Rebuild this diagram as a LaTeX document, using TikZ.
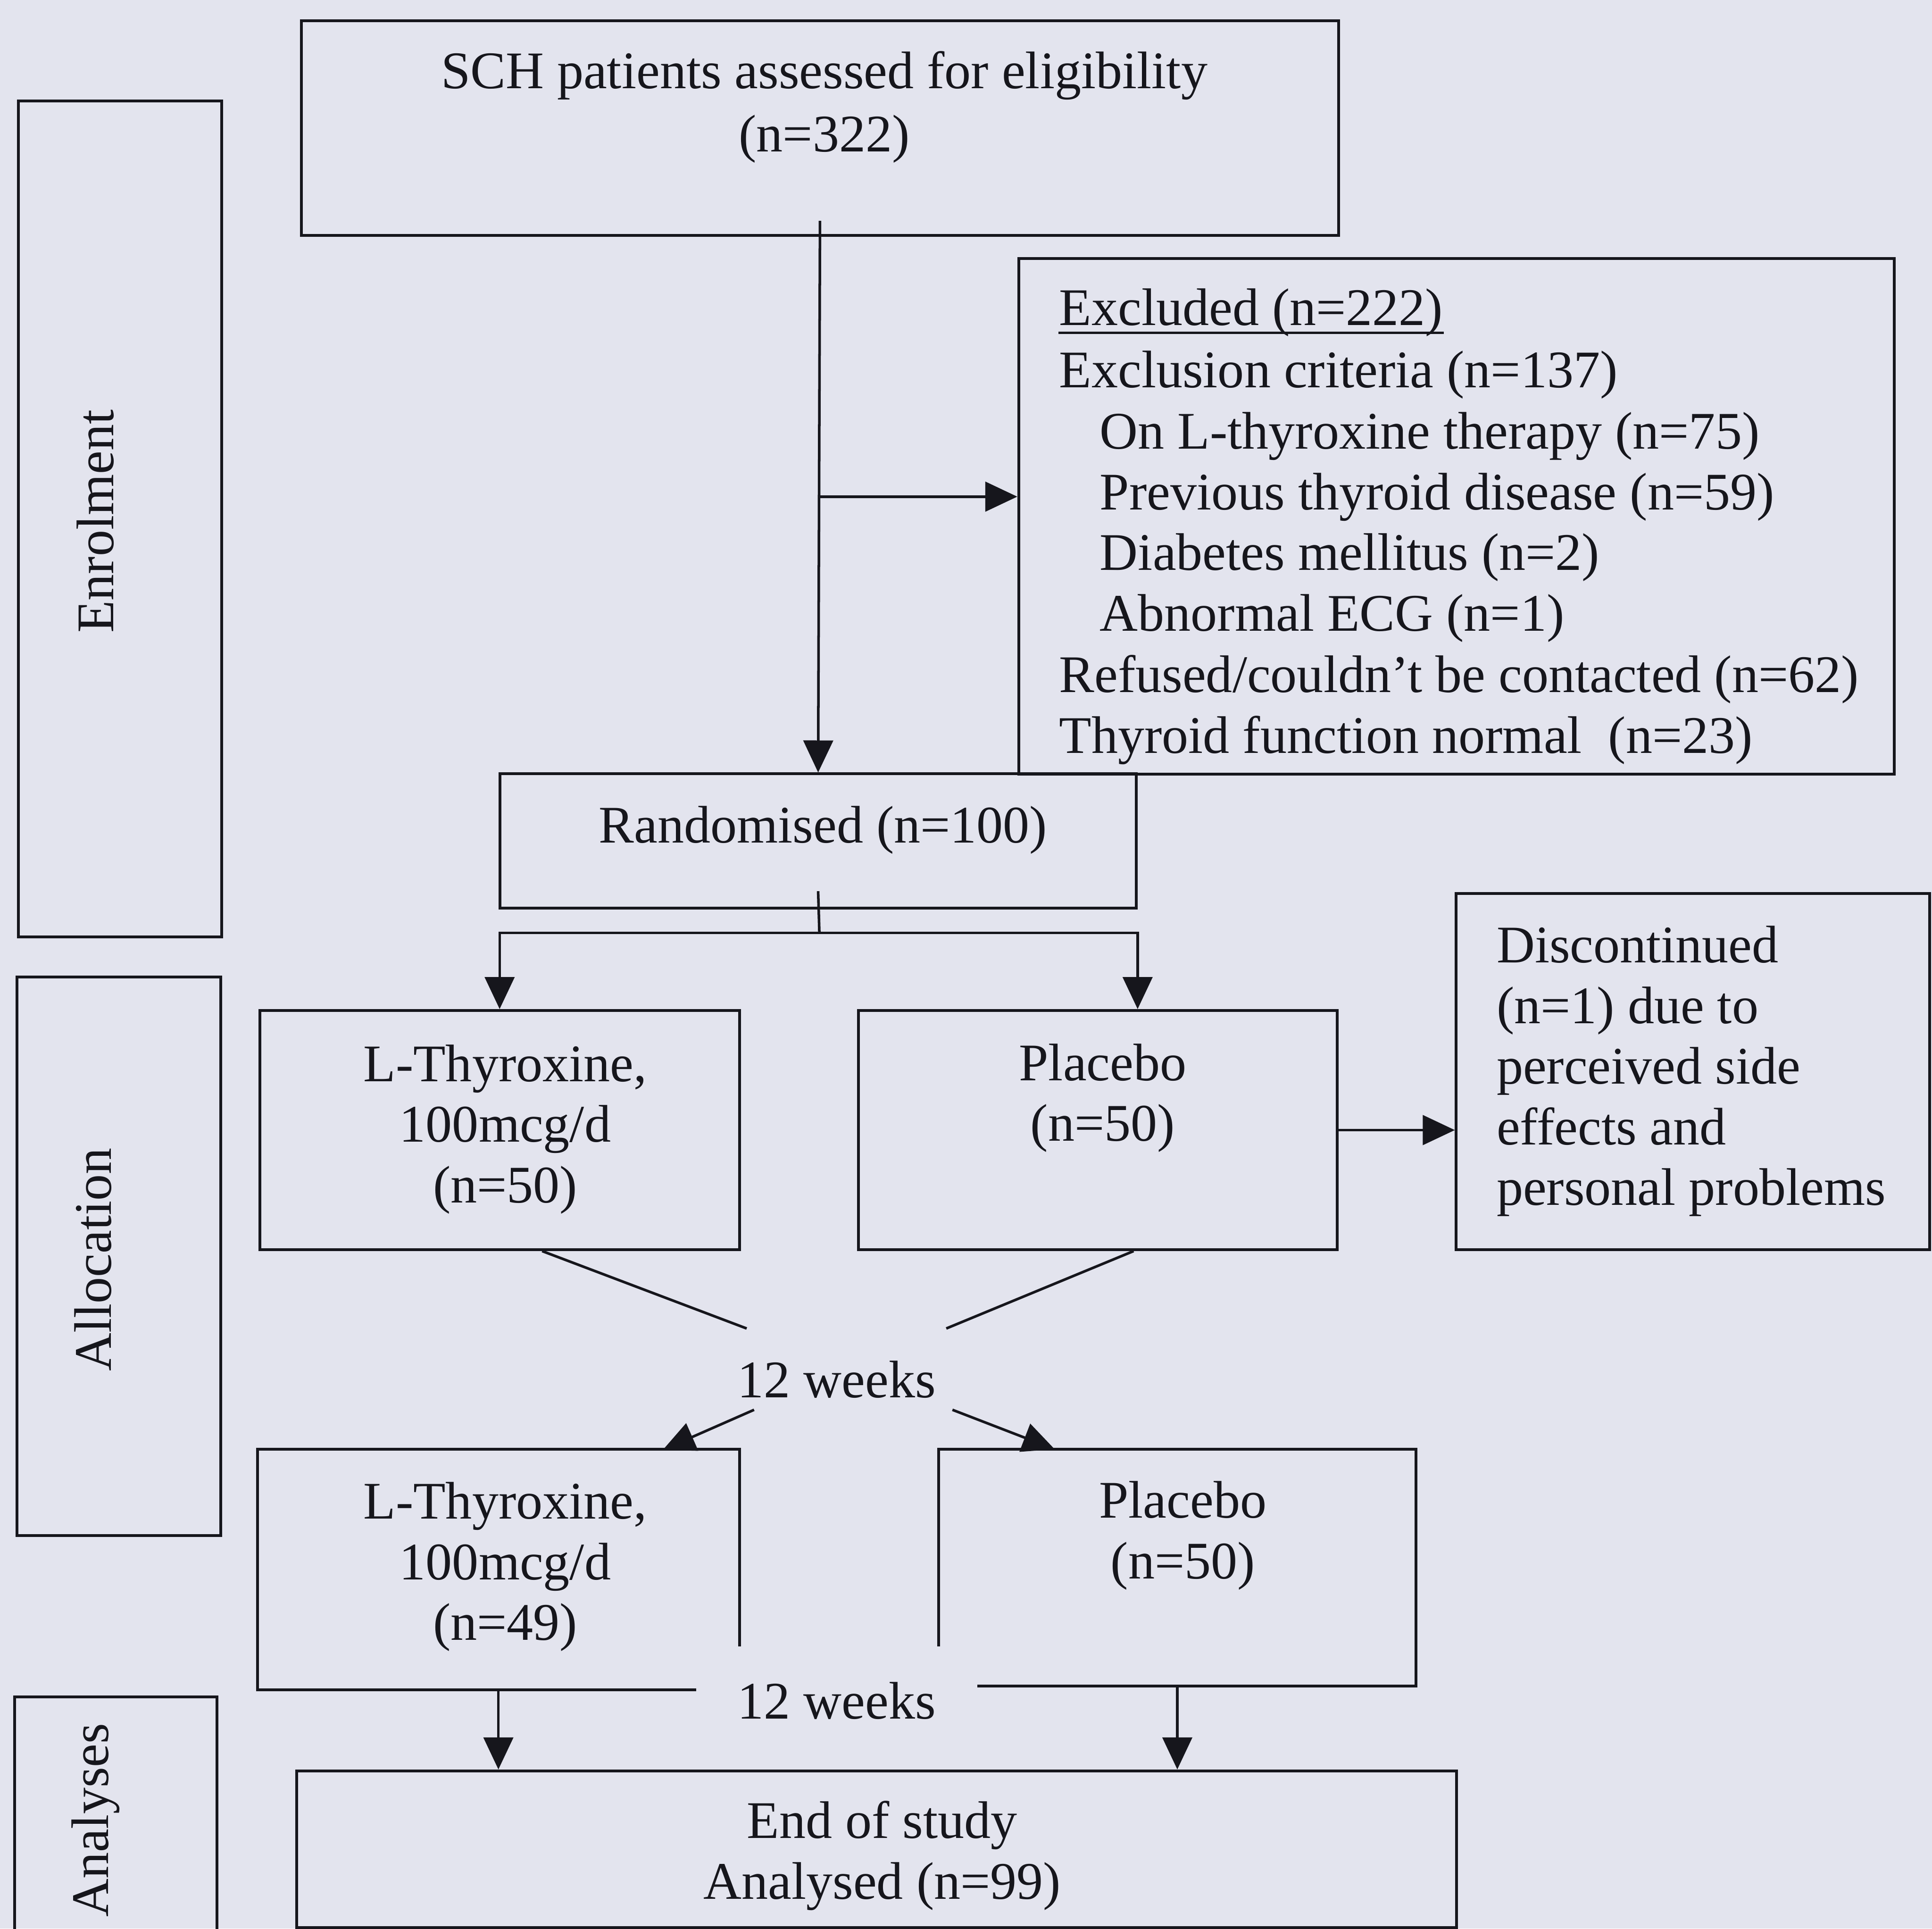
\documentclass[tikz,border=0pt]{standalone}
\usepackage{fontspec}
\setmainfont{Liberation Serif}
\usetikzlibrary{arrows.meta}
\definecolor{bg}{RGB}{227,228,238}
\definecolor{ink}{RGB}{22,22,28}
\begin{document}
\begin{tikzpicture}[x=0.01cm,y=-0.01cm,
  box/.style={draw=ink,line width=0.65pt,rectangle,inner sep=0pt},
  txt/.style={inner sep=0pt,text=ink,font={\fontsize{12.2}{14}\selectfont},anchor=base},
  side/.style={inner sep=0pt,text=ink,font={\fontsize{12.2}{14}\selectfont},anchor=base,rotate=90},
  ln/.style={draw=ink,line width=0.6pt},
  arr/.style={ln,-{Triangle[length=0.26cm,width=0.24cm]}}]
\fill[bg] (0,0) rectangle (1568,1565);
\useasboundingbox (0,0) rectangle (1568,1565);

% side boxes
\node[box,minimum width=1.65cm,minimum height=6.78cm] (enrol) at (97.5,421) {};
\node[box,minimum width=1.65cm,minimum height=4.53cm] (alloc) at (96.5,1019.5) {};
\node[box,minimum width=1.64cm,minimum height=2.33cm] (anal) at (94,1493.5) {};
\node[side] (enrolT) at (92,423) {Enrolment};
\node[side] (allocT) at (90,1022) {Allocation};
\node[side] (analT) at (88,1477) {Analyses};

% main boxes
\node[box,minimum width=8.41cm,minimum height=1.74cm] (top) at (665.5,104) {};
\node[box,minimum width=7.10cm,minimum height=4.18cm] (excl) at (1182,419) {};
\node[box,minimum width=5.16cm,minimum height=1.09cm] (rand) at (664,682.5) {};
\node[box,minimum width=3.89cm,minimum height=1.94cm] (lt1) at (405.5,917) {};
\node[box,minimum width=3.88cm,minimum height=1.94cm] (pl1) at (891,917) {};
\node[box,minimum width=3.84cm,minimum height=2.89cm] (disc) at (1374,869.5) {};
\node[box,minimum width=3.91cm,minimum height=1.95cm] (lt2) at (404.5,1273.5) {};
\node[box,minimum width=3.87cm,minimum height=1.92cm] (pl2) at (955.5,1272) {};
\node[box,minimum width=9.41cm,minimum height=1.27cm] (end) at (711.5,1500.5) {};

% texts (base anchor of a multi-line node = baseline of its last line)
\node[txt,align=center] (topT) at (669,123) {SCH patients assessed for eligibility\\[0.6pt](n=322)};
\node[txt,anchor=base west] (ex1) at (859,264) {Excluded (n=222)};
\draw[ink,line width=0.55pt] ([yshift=-1.7pt]ex1.base west) -- ([yshift=-1.7pt]ex1.base east);
\node[txt,anchor=base west,align=left] (ex2) at (859,314.5) {Exclusion criteria (n=137)};
\node[txt,anchor=base west,align=left] (ex3) at (892,512) {On L-thyroxine therapy (n=75)\\Previous thyroid disease (n=59)\\Diabetes mellitus (n=2)\\Abnormal ECG (n=1)};
\node[txt,anchor=base west,align=left] (ex4) at (859,611) {Refused/couldn’t be contacted (n=62)\\Thyroid function normal\ \ (n=23)};
\node[txt] (randT) at (668,684) {Randomised (n=100)};
\node[txt,align=center] (lt1T) at (410,976) {L-Thyroxine,\\100mcg/d\\(n=50)};
\node[txt,align=center] (pl1T) at (895,926) {Placebo\\(n=50)};
\node[txt,anchor=base west,align=left] (discT) at (1214,978) {Discontinued\\(n=1) due to\\perceived side\\effects and\\personal problems};
\node[txt] (w1) at (679,1134) {12 weeks};
\node[txt,align=center] (lt2T) at (410,1331) {L-Thyroxine,\\100mcg/d\\(n=49)};
\node[txt,align=center] (pl2T) at (960,1281) {Placebo\\(n=50)};
\node[txt,align=center] (endT) at (716,1541) {End of study\\Analysed (n=99)};

% connectors
\draw[arr] ([yshift=0.13cm]top.south) -- (rand.north);
\coordinate (br1) at (665,403);
\draw[arr] (br1) -- (br1 -| excl.west);
\coordinate (sp) at (665,757);
\draw[ln] ([yshift=0.15cm]rand.south) -- (sp);
\draw[arr] (sp) -| (lt1.north);
\draw[arr] (sp) -| (rand.east |- pl1.north);
\draw[arr] (pl1.east) -- (disc.west |- pl1.east);

\coordinate (m1) at (606,1078);
\coordinate (m2) at (768,1078);
\draw[ln] ([xshift=0.345cm]lt1.south) -- (m1);
\draw[ln] ([xshift=0.29cm]pl1.south) -- (m2);
\coordinate (d1) at (612,1144);
\coordinate (d2) at (773,1144);
\draw[arr] (d1) -- (538,1176.5);
\draw[arr] (d2) -- (856,1176);

% second 12 weeks label covering the box corners
\node[fill=bg,inner sep=0pt,minimum width=2.28cm,minimum height=0.88cm,text=ink,font={\fontsize{12.2}{14}\selectfont}] (w2) at (679,1380) {12 weeks};

\draw[arr] (lt2.south) -- (lt2.south |- end.north);
\draw[arr] (pl2.south) -- (pl2.south |- end.north);
\end{tikzpicture}
\end{document}
